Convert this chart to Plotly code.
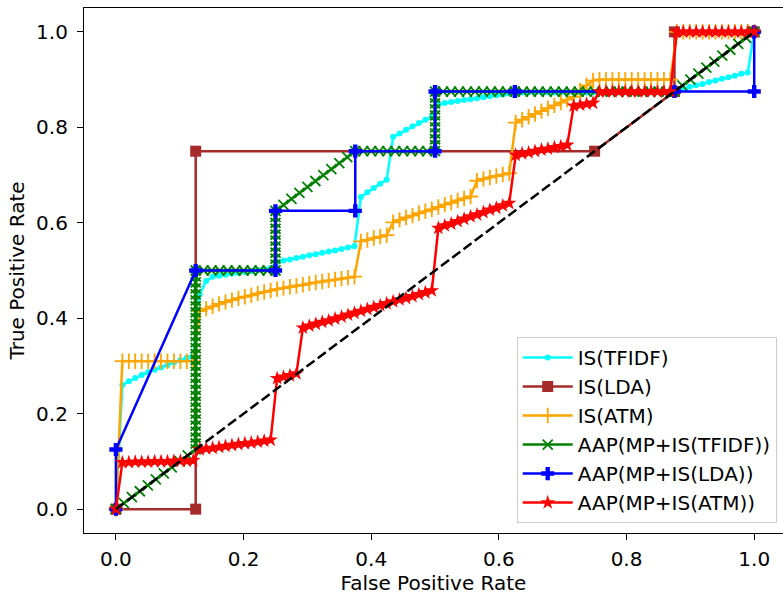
import plotly.graph_objects as go

# Shared false-positive-rate grid used by the averaged ROC curves
FPR_GRID = [
    0.0, 0.0101, 0.0202, 0.0303, 0.0404, 0.0505, 0.0606, 0.0707, 0.0808, 0.0909,
    0.1010, 0.1111, 0.1212, 0.1313, 0.1414, 0.1515, 0.1616, 0.1717, 0.1818, 0.1919,
    0.2020, 0.2121, 0.2222, 0.2323, 0.2424, 0.2525, 0.2626, 0.2727, 0.2828, 0.2929,
    0.3030, 0.3131, 0.3232, 0.3333, 0.3434, 0.3535, 0.3636, 0.3737, 0.3838, 0.3939,
    0.4040, 0.4141, 0.4242, 0.4343, 0.4444, 0.4545, 0.4646, 0.4747, 0.4848, 0.4949,
    0.5051, 0.5152, 0.5253, 0.5354, 0.5455, 0.5556, 0.5657, 0.5758, 0.5859, 0.5960,
    0.6061, 0.6162, 0.6263, 0.6364, 0.6465, 0.6566, 0.6667, 0.6768, 0.6869, 0.6970,
    0.7071, 0.7172, 0.7273, 0.7374, 0.7475, 0.7576, 0.7677, 0.7778, 0.7879, 0.7980,
    0.8081, 0.8182, 0.8283, 0.8384, 0.8485, 0.8586, 0.8687, 0.8788, 0.8889, 0.8990,
    0.9091, 0.9192, 0.9293, 0.9394, 0.9495, 0.9596, 0.9697, 0.9798, 0.9899, 1.0,
]

# IS(TFIDF): mean TPR on FPR_GRID
TPR_IS_TFIDF = [
    0.0, 0.260, 0.268, 0.275, 0.281, 0.287, 0.292, 0.297, 0.302, 0.307,
    0.312, 0.317, 0.322, 0.450, 0.478, 0.487, 0.489, 0.491, 0.493, 0.495,
    0.497, 0.499, 0.501, 0.503, 0.505, 0.518, 0.521, 0.523, 0.526, 0.529,
    0.532, 0.534, 0.537, 0.540, 0.542, 0.545, 0.548, 0.551, 0.654, 0.664,
    0.673, 0.682, 0.690, 0.780, 0.787, 0.795, 0.802, 0.809, 0.816, 0.822,
    0.848, 0.851, 0.853, 0.855, 0.857, 0.859, 0.861, 0.863, 0.865, 0.867,
    0.869, 0.871, 0.872, 0.873, 0.873, 0.873, 0.873, 0.873, 0.873, 0.873,
    0.873, 0.873, 0.873, 0.873, 0.873, 0.873, 0.873, 0.873, 0.873, 0.873,
    0.873, 0.873, 0.873, 0.873, 0.873, 0.873, 0.873, 0.878, 0.881, 0.885,
    0.888, 0.891, 0.895, 0.898, 0.902, 0.905, 0.908, 0.912, 0.915, 1.0,
]

# IS(ATM): mean TPR on FPR_GRID
TPR_IS_ATM = [
    0.0, 0.310, 0.310, 0.310, 0.310, 0.310, 0.310, 0.310, 0.310, 0.310,
    0.310, 0.310, 0.310, 0.415, 0.420, 0.425, 0.430, 0.434, 0.438, 0.442,
    0.445, 0.448, 0.452, 0.455, 0.458, 0.461, 0.463, 0.466, 0.468, 0.470,
    0.473, 0.475, 0.477, 0.479, 0.481, 0.483, 0.485, 0.487, 0.561, 0.564,
    0.568, 0.571, 0.574, 0.601, 0.606, 0.611, 0.615, 0.620, 0.624, 0.628,
    0.633, 0.638, 0.642, 0.647, 0.651, 0.655, 0.688, 0.692, 0.695, 0.698,
    0.701, 0.704, 0.810, 0.816, 0.822, 0.828, 0.834, 0.840, 0.846, 0.852,
    0.858, 0.864, 0.877, 0.888, 0.898, 0.900, 0.900, 0.900, 0.900, 0.900,
    0.900, 0.900, 0.900, 0.900, 0.900, 0.900, 0.900, 1.0, 1.0, 1.0,
    1.0, 1.0, 1.0, 1.0, 1.0, 1.0, 1.0, 1.0, 1.0, 1.0,
]

# AAP(MP+IS(ATM)): mean TPR on FPR_GRID
TPR_AAP_ATM = [
    0.0, 0.098, 0.098, 0.099, 0.099, 0.099, 0.100, 0.100, 0.100, 0.101,
    0.101, 0.101, 0.102, 0.125, 0.127, 0.128, 0.130, 0.132, 0.134, 0.136,
    0.138, 0.139, 0.141, 0.143, 0.145, 0.274, 0.277, 0.280, 0.284, 0.380,
    0.384, 0.388, 0.392, 0.395, 0.399, 0.403, 0.407, 0.411, 0.415, 0.419,
    0.423, 0.427, 0.431, 0.435, 0.439, 0.442, 0.446, 0.450, 0.454, 0.458,
    0.589, 0.594, 0.598, 0.603, 0.608, 0.613, 0.617, 0.622, 0.627, 0.631,
    0.636, 0.641, 0.742, 0.745, 0.747, 0.750, 0.753, 0.755, 0.758, 0.760,
    0.763, 0.845, 0.847, 0.849, 0.851, 0.875, 0.875, 0.875, 0.875, 0.875,
    0.875, 0.875, 0.875, 0.875, 0.875, 0.875, 0.875, 1.0, 1.0, 1.0,
    1.0, 1.0, 1.0, 1.0, 1.0, 1.0, 1.0, 1.0, 1.0, 1.0,
]

# IS(LDA)
FPR_IS_LDA = [0.0, 0.125, 0.125, 0.75, 0.875, 0.875, 1.0]
TPR_IS_LDA = [0.0, 0.0, 0.75, 0.75, 0.875, 1.0, 1.0]

# AAP(MP+IS(LDA))
FPR_AAP_LDA = [0.0, 0.0, 0.125, 0.25, 0.25, 0.375, 0.375, 0.5, 0.5, 0.625, 0.875, 1.0, 1.0]
TPR_AAP_LDA = [0.0, 0.125, 0.5, 0.5, 0.625, 0.625, 0.75, 0.75, 0.875, 0.875, 0.875, 0.875, 1.0]

# AAP(MP+IS(TFIDF))
FPR_AAP_TFIDF = [
    0.0, 0.0125, 0.025, 0.0375, 0.05, 0.0625, 0.075, 0.0875, 0.1, 0.1125, 0.125,
    0.125, 0.125, 0.125, 0.125, 0.125, 0.125, 0.125, 0.125, 0.125, 0.125,
    0.125, 0.125, 0.125, 0.125, 0.125, 0.125, 0.125, 0.125, 0.125, 0.125,
    0.125, 0.125, 0.125, 0.125, 0.125, 0.125, 0.125, 0.125, 0.125, 0.125,
    0.1375, 0.15, 0.1625, 0.175, 0.1875, 0.2, 0.2125, 0.225, 0.2375, 0.25,
    0.25, 0.25, 0.25, 0.25, 0.25, 0.25, 0.25, 0.25, 0.25, 0.25,
    0.2625, 0.275, 0.2875, 0.3, 0.3125, 0.325, 0.3375, 0.35, 0.3625, 0.375,
    0.3875, 0.4, 0.4125, 0.425, 0.4375, 0.45, 0.4625, 0.475, 0.4875, 0.5,
    0.5, 0.5, 0.5, 0.5, 0.5, 0.5, 0.5, 0.5, 0.5, 0.5,
    0.5125, 0.525, 0.5375, 0.55, 0.5625, 0.575, 0.5875, 0.6, 0.6125, 0.625,
    0.6375, 0.65, 0.6625, 0.675, 0.6875, 0.7, 0.7125, 0.725, 0.7375, 0.75,
    0.7625, 0.775, 0.7875, 0.8, 0.8125, 0.825, 0.8375, 0.85, 0.8625, 0.875,
    0.8875, 0.9, 0.9125, 0.925, 0.9375, 0.95, 0.9625, 0.975, 0.9875, 1.0,
]
TPR_AAP_TFIDF = [
    0.0, 0.0125, 0.025, 0.0375, 0.05, 0.0625, 0.075, 0.0875, 0.1, 0.1125, 0.125,
    0.1375, 0.15, 0.1625, 0.175, 0.1875, 0.2, 0.2125, 0.225, 0.2375, 0.25,
    0.2625, 0.275, 0.2875, 0.3, 0.3125, 0.325, 0.3375, 0.35, 0.3625, 0.375,
    0.3875, 0.4, 0.4125, 0.425, 0.4375, 0.45, 0.4625, 0.475, 0.4875, 0.5,
    0.5, 0.5, 0.5, 0.5, 0.5, 0.5, 0.5, 0.5, 0.5, 0.5,
    0.5125, 0.525, 0.5375, 0.55, 0.5625, 0.575, 0.5875, 0.6, 0.6125, 0.625,
    0.6375, 0.65, 0.6625, 0.675, 0.6875, 0.7, 0.7125, 0.725, 0.7375, 0.75,
    0.75, 0.75, 0.75, 0.75, 0.75, 0.75, 0.75, 0.75, 0.75, 0.75,
    0.7625, 0.775, 0.7875, 0.8, 0.8125, 0.825, 0.8375, 0.85, 0.8625, 0.875,
    0.875, 0.875, 0.875, 0.875, 0.875, 0.875, 0.875, 0.875, 0.875, 0.875,
    0.875, 0.875, 0.875, 0.875, 0.875, 0.875, 0.875, 0.875, 0.875, 0.875,
    0.875, 0.875, 0.875, 0.875, 0.875, 0.875, 0.875, 0.875, 0.875, 0.875,
    0.8875, 0.9, 0.9125, 0.925, 0.9375, 0.95, 0.9625, 0.975, 0.9875, 1.0,
]

# Chance diagonal
CHANCE = [0.0, 1.0]

TICKS = [0.0, 0.2, 0.4, 0.6, 0.8, 1.0]
TICK_LABELS = ["0.0", "0.2", "0.4", "0.6", "0.8", "1.0"]

FONT = "DejaVu Sans"
FS = 20
LW = 2.5

series = [
    ("IS(TFIDF)", FPR_GRID, TPR_IS_TFIDF, "#00FFFF",
     dict(symbol="circle", size=6, color="#00FFFF")),
    ("IS(LDA)", FPR_IS_LDA, TPR_IS_LDA, "#A52A2A",
     dict(symbol="square", size=11, color="#A52A2A")),
    ("IS(ATM)", FPR_GRID, TPR_IS_ATM, "#FFA500",
     dict(symbol="cross-thin-open", size=11, color="#FFA500",
          line=dict(color="#FFA500", width=1.8))),
    ("AAP(MP+IS(TFIDF))", FPR_AAP_TFIDF, TPR_AAP_TFIDF, "#008000",
     dict(symbol="x-thin-open", size=10, color="#008000",
          line=dict(color="#008000", width=1.8))),
    ("AAP(MP+IS(LDA))", FPR_AAP_LDA, TPR_AAP_LDA, "#0000FF",
     dict(symbol="cross", size=11, color="#0000FF")),
    ("AAP(MP+IS(ATM))", FPR_GRID, TPR_AAP_ATM, "#FF0000",
     dict(symbol="star", size=11, color="#FF0000")),
]

fig = go.Figure()
for name, xs, ys, color, marker in series:
    fig.add_trace(go.Scatter(
        x=xs, y=ys, name=name, legendgroup=name,
        mode="lines+markers",
        line=dict(color=color, width=LW),
        marker=marker,
    ))

fig.add_trace(go.Scatter(
    x=CHANCE, y=CHANCE, mode="lines", showlegend=False,
    line=dict(color="black", width=LW, dash="10px,4px"),
))

axis_common = dict(
    tickvals=TICKS, ticktext=TICK_LABELS,
    ticks="outside", ticklen=6, tickwidth=1.2, tickcolor="black",
    showline=True, linecolor="black", linewidth=1.2,
    showgrid=False, zeroline=False,
    tickfont=dict(family=FONT, size=FS, color="black"),
)

fig.update_layout(
    width=783, height=596,
    margin=dict(l=84, r=0, t=8, b=63),
    plot_bgcolor="white", paper_bgcolor="white",
    font=dict(family=FONT, size=FS, color="black"),
    xaxis=dict(range=[-0.05, 1.0451], mirror=True, ticklabelstandoff=2,
               title=dict(text="False Positive Rate", standoff=3,
                          font=dict(family=FONT, size=FS, color="black")),
               **axis_common),
    yaxis=dict(range=[-0.05, 1.05], mirror=False, ticklabelstandoff=5,
               title=dict(text="True Positive Rate", standoff=6,
                          font=dict(family=FONT, size=FS, color="black")),
               **axis_common),
    legend=dict(
        x=0.991, xanchor="right", y=0.019, yanchor="bottom",
        bgcolor="rgba(255,255,255,0.8)", bordercolor="#cccccc", borderwidth=1,
        font=dict(family=FONT, size=FS, color="black"),
        tracegroupgap=0, itemwidth=50,
    ),
)

fig.write_html("out.html")
